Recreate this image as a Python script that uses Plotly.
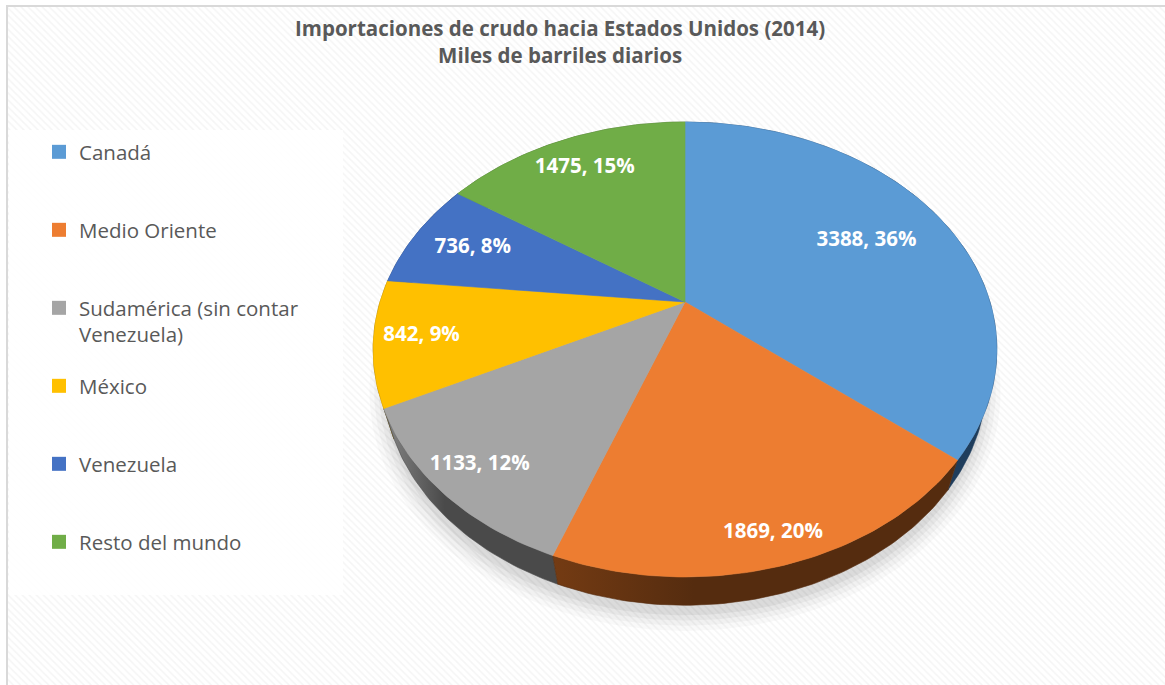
import numpy as np
import plotly.graph_objects as go

# ---- data -------------------------------------------------------------
categories = [
    "Canadá",
    "Medio Oriente",
    "Sudamérica (sin contar<br>Venezuela)",
    "México",
    "Venezuela",
    "Resto del mundo",
]
values = [3388, 1869, 1133, 842, 736, 1475]          # miles de barriles diarios
percent_labels = [36, 20, 12, 9, 8, 15]               # porcentaje mostrado en cada etiqueta

# ---- styling -----------------------------------------------------------
W, H = 1165, 685
top_colors = ["#5b9bd5", "#ed7d31", "#a5a5a5", "#ffc000", "#4472c4", "#70ad47"]
side_colors = [
    ("#2f5579", "#1f3d5c"),
    ("#743b13", "#552c0f"),
    ("#858585", "#4a4a4a"),
    ("#a27a00", "#785a00"),
    ("#2d4d85", "#1f3763"),
    ("#4b7c2e", "#365a20"),
]
label_radius = [0.70, 0.90, 0.87, 0.85, 0.78, 0.80]
FONT = "Open Sans"
TEXT_GREY = "#595959"

# 3-D pie camera (radius = 1)
CX, CY = 685.0, 302.0
ELEV = np.radians(45.5)
DIST = 3.356
SCALE = 305.0
FOCAL = SCALE * DIST
THICK = 0.15


def project(u, v, z):
    """u: right, v: away from viewer, z: up -> screen pixels."""
    u, v, z = np.asarray(u, float), np.asarray(v, float), np.asarray(z, float)
    up = v * np.sin(ELEV) + z * np.cos(ELEV)
    depth = DIST + v * np.cos(ELEV) - z * np.sin(ELEV)
    return CX + FOCAL * u / depth, CY - FOCAL * up / depth


def arc(a0, a1, z, r=1.0):
    n = max(int(abs(a1 - a0) / np.radians(1.0)), 2)
    t = np.linspace(a0, a1, n)
    return project(r * np.sin(t), r * np.cos(t), np.full_like(t, z))


total = float(sum(values))
frac = np.array(values) / total
edges = np.concatenate([[0.0], np.cumsum(frac)]) * 2 * np.pi

fig = go.Figure()

# hatched chart background
fig.add_trace(go.Scatter(
    x=[7, W + 5, W + 5, 7, 7], y=[6, 6, H + 5, H + 5, 6],
    mode="lines", fill="toself", line=dict(width=0),
    fillcolor="white",
    fillpattern=dict(shape="\\", fgcolor="#ebebeb", bgcolor="white", size=5, solidity=0.3),
    hoverinfo="skip", showlegend=False,
))

# soft shadow under the pie
for s, a in [(1.05, 0.025), (1.035, 0.03), (1.02, 0.04), (1.005, 0.05)]:
    sx, sy = arc(0, 2 * np.pi, -THICK - 0.03, r=s)
    fig.add_trace(go.Scatter(
        x=sx, y=sy + 3, mode="lines", fill="toself", line=dict(width=0),
        fillcolor=f"rgba(0,0,0,{a})", hoverinfo="skip", showlegend=False,
    ))

# rim of each slice, back to front
order = sorted(range(len(values)), key=lambda i: -np.cos((edges[i] + edges[i + 1]) / 2))
for i in order:
    tx, ty = arc(edges[i], edges[i + 1], 0.0)
    bx, by = arc(edges[i + 1], edges[i], -THICK)
    xs = np.concatenate([tx, bx, tx[:1]])
    ys = np.concatenate([ty, by, ty[:1]])
    c0, c1 = side_colors[i]
    fig.add_trace(go.Scatter(
        x=xs, y=ys, mode="lines", fill="toself",
        line=dict(width=0.6, color=c1),
        fillgradient=dict(type="horizontal", colorscale=[[0, c0], [0.35, c1], [1, c1]],
                          start=float(xs.min()), stop=float(xs.max())),
        hoverinfo="skip", showlegend=False,
    ))

# top faces
cx0, cy0 = project(0, 0, 0)
for i in range(len(values)):
    tx, ty = arc(edges[i], edges[i + 1], 0.0)
    xs = np.concatenate([[cx0], tx, [cx0]])
    ys = np.concatenate([[cy0], ty, [cy0]])
    fig.add_trace(go.Scatter(
        x=xs, y=ys, mode="lines", fill="toself",
        line=dict(width=0.6, color=top_colors[i]), fillcolor=top_colors[i],
        name=categories[i].replace("<br>", " "), hoverinfo="name", showlegend=False,
    ))

# data labels
mid = (edges[:-1] + edges[1:]) / 2
lr = np.array(label_radius)
lx, ly = project(lr * np.sin(mid), lr * np.cos(mid), np.zeros_like(mid))
fig.add_trace(go.Scatter(
    x=lx, y=ly, mode="text",
    text=[f"<b>{v}, {p}%</b>" for v, p in zip(values, percent_labels)],
    textfont=dict(family=FONT, size=20.5, color="white"),
    hoverinfo="skip", showlegend=False,
))

# legend keys, one legend box per entry so rows are evenly spaced
LEG_X = 39
LEG_FIRST = 153
LEG_STEP = 78
legends = {}
for i, cat in enumerate(categories):
    lid = "legend" if i == 0 else f"legend{i + 1}"
    fig.add_trace(go.Scatter(
        x=[None], y=[None], mode="markers",
        marker=dict(symbol="square", size=14, color=top_colors[i]),
        name=cat, legend=lid, showlegend=True,
    ))
    legends[lid] = dict(
        x=LEG_X / W, xanchor="left",
        y=1 - (LEG_FIRST + i * LEG_STEP - 21) / H, yanchor="top",
        bgcolor="rgba(0,0,0,0)", borderwidth=0, valign="top",
        font=dict(family=FONT, size=20.5, color=TEXT_GREY),
        itemclick=False, itemdoubleclick=False,
    )

fig.update_layout(
    width=W, height=H,
    margin=dict(l=0, r=0, t=0, b=0),
    paper_bgcolor="white", plot_bgcolor="white",
    xaxis=dict(range=[0, W], visible=False, fixedrange=True),
    yaxis=dict(range=[H, 0], visible=False, fixedrange=True),
    showlegend=True,
    shapes=[
        dict(type="rect", xref="x", yref="y", x0=9, x1=343, y0=130, y1=595,
             fillcolor="rgba(255,255,255,0.88)", line=dict(width=0), layer="above"),
        dict(type="rect", xref="x", yref="y", x0=7, x1=W + 10, y0=6, y1=H + 10,
             fillcolor="rgba(0,0,0,0)", line=dict(color="#d9d9d9", width=2), layer="above"),
    ],
    annotations=[
        dict(
            text="<b>Importaciones de crudo hacia Estados Unidos (2014)<br>Miles de barriles diarios</b>",
            x=560 / W, y=1 - 12 / H, xref="paper", yref="paper",
            xanchor="center", yanchor="top", showarrow=False,
            font=dict(family=FONT, size=20.5, color=TEXT_GREY),
        )
    ],
    **legends,
)

fig.write_html("out.html", config={"displayModeBar": False})
